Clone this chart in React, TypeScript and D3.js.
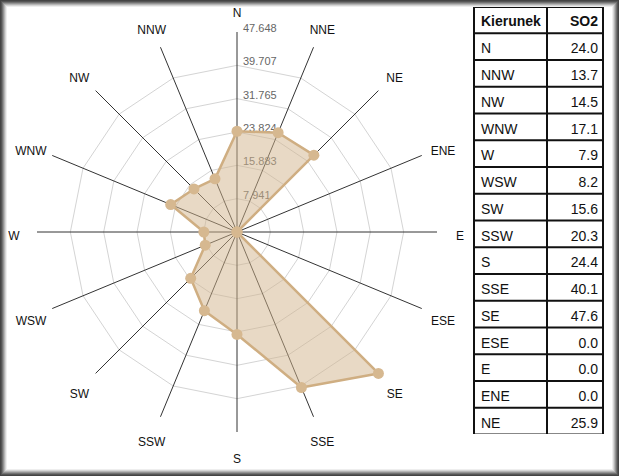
import React from "react";
import * as d3 from "d3";

const directions = ["N", "NNE", "NE", "ENE", "E", "ESE", "SE", "SSE", "S", "SSW", "SW", "WSW", "W", "WNW", "NW", "NNW"];
const so2Values = [24.0, 25.6, 25.9, 0.0, 0.0, 0.0, 47.648, 40.1, 24.4, 20.3, 15.6, 8.2, 7.9, 17.1, 14.5, 13.7];
const tableHeaders = ["Kierunek", "SO2"];
const levelCount = 6;

const W = 619;
const H = 476;
const cx = 237;
const cy = 232;
const R = 200;
const font = "'Liberation Sans', Arial, Helvetica, sans-serif";

export default function App() {
  const maxV = d3.max(so2Values) as number;
  const r = d3.scaleLinear().domain([0, maxV]).range([0, R]);
  const n = directions.length;
  const ang = (i: number) => (i * 2 * Math.PI) / n;
  const px = (i: number, rad: number) => cx + rad * Math.sin(ang(i));
  const py = (i: number, rad: number) => cy - rad * Math.cos(ang(i));

  const levels = d3.range(1, levelCount + 1).map((k) => (maxV * k) / levelCount);

  const radial = d3
    .lineRadial<number>()
    .angle((_, i) => ang(i))
    .radius((d) => r(d))
    .curve(d3.curveLinearClosed);

  const gridLine = d3
    .lineRadial<number>()
    .angle((_, i) => ang(i))
    .radius((d) => d)
    .curve(d3.curveLinearClosed);

  // table rows: N then counter-clockwise
  const tableIdx = [0, ...d3.range(n - 1, 0, -1)];
  const tx0 = 474, tx1 = 547, tx2 = 603;
  const ty0 = 7, hdrH = 26.3, rowH = 26.75;

  const frameColors = ["#444", "#555", "#727272", "#939393", "#b5b5b5", "#d5d5d5", "#eeeeee"];

  return (
    <svg width={W} height={H} style={{ position: "absolute", left: 0, top: 0, background: "#fff" }} fontFamily={font}>
      <defs>
        <clipPath id="tclip">
          <rect x={0} y={0} width={W} height={434} />
        </clipPath>
      </defs>
      <rect x={0} y={0} width={W} height={H} fill="#fff" />
      {/* grid */}
      <g>
        {levels.slice(0, levelCount - 1).map((lv, k) => (
          <path
            key={k}
            d={gridLine(directions.map(() => r(lv))) as string}
            transform={`translate(${cx},${cy})`}
            fill="none"
            stroke="#d4d4d4"
            strokeWidth={1}
          />
        ))}
      </g>
      {/* spokes */}
      {directions.map((d, i) => (
        <line key={d} x1={cx} y1={cy} x2={px(i, R)} y2={py(i, R)} stroke="#333" strokeWidth={1} />
      ))}
      {/* level labels */}
      {levels.map((lv, k) => (
        <text key={k} x={cx + 6} y={cy - r(lv)} fontSize={11} fill="#666">
          {lv.toFixed(3)}
        </text>
      ))}
      {/* area */}
      <path
        d={radial(so2Values) as string}
        transform={`translate(${cx},${cy})`}
        fill="rgba(210,180,140,0.5)"
        stroke="#cfae82"
        strokeWidth={2.5}
        strokeLinejoin="round"
      />
      {so2Values.map((v, i) => (
        <circle key={i} cx={px(i, r(v))} cy={py(i, r(v))} r={5.5} fill="#d6b890" />
      ))}
      {/* direction labels */}
      {directions.map((d, i) => (
        <text key={d} x={px(i, 223)} y={py(i, 223) + 4} fontSize={12} fill="#111" textAnchor="middle" dominantBaseline="central">
          {d}
        </text>
      ))}
      {/* table */}
      <g clipPath="url(#tclip)">
        <rect x={tx0} y={ty0} width={tx2 - tx0} height={hdrH + rowH * tableIdx.length} fill="#fff" />
        <text x={tx0 + 7} y={ty0 + 19} fontSize={14} fontWeight="bold" fill="#111">{tableHeaders[0]}</text>
        <text x={tx2 - 5} y={ty0 + 19} fontSize={14} fontWeight="bold" fill="#111" textAnchor="end">{tableHeaders[1]}</text>
        {tableIdx.map((idx, k) => {
          const y = ty0 + hdrH + k * rowH;
          return (
            <g key={k}>
              <text x={tx0 + 7} y={y + 20} fontSize={14} fill="#111">{directions[idx]}</text>
              <text x={tx2 - 5} y={y + 20} fontSize={14} fill="#111" textAnchor="end">{so2Values[idx].toFixed(1)}</text>
              <line x1={tx0} x2={tx2} y1={y + rowH} y2={y + rowH} stroke="#111" strokeWidth={2} />
            </g>
          );
        })}
        <line x1={tx0} x2={tx2} y1={ty0} y2={ty0} stroke="#111" strokeWidth={2} />
        <line x1={tx0} x2={tx2} y1={ty0 + hdrH} y2={ty0 + hdrH} stroke="#111" strokeWidth={2} />
        <line x1={tx0} x2={tx0} y1={ty0} y2={H} stroke="#111" strokeWidth={2} />
        <line x1={tx1} x2={tx1} y1={ty0} y2={H} stroke="#111" strokeWidth={2} />
        <line x1={tx2} x2={tx2} y1={ty0} y2={H} stroke="#111" strokeWidth={2} />
      </g>
      {/* frame */}
      {frameColors.map((c, k) => (
        <rect key={k} x={k + 0.5} y={k + 0.5} width={W - 2 * k - 1} height={H - 2 * k - 1} fill="none" stroke={c} strokeWidth={1} />
      ))}
    </svg>
  );
}
